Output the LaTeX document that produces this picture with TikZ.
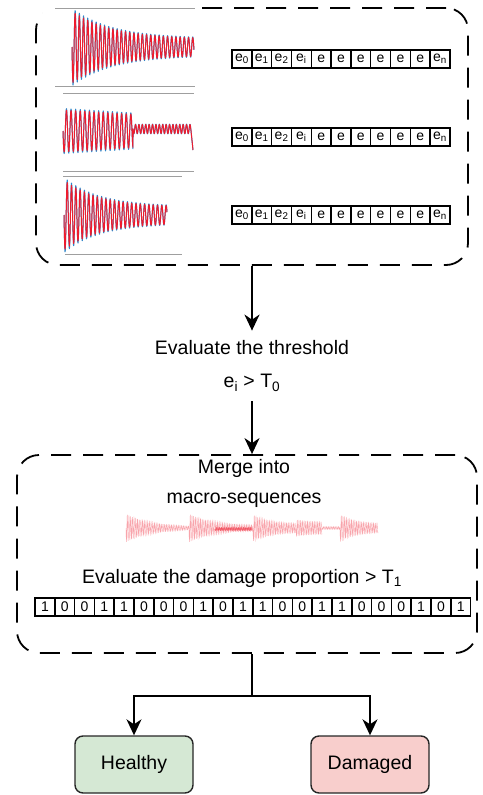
\documentclass[tikz,border=0pt]{standalone}
\usepackage{fontspec}
\setmainfont{Liberation Sans}
\usepackage{tikz}
\usetikzlibrary{arrows.meta}

\definecolor{wavered}{HTML}{EE1C2E}
\definecolor{waveblue}{HTML}{2F86C9}
\definecolor{okfill}{HTML}{D5E8D4}
\definecolor{badfill}{HTML}{F8CECC}

\begin{document}
\begin{tikzpicture}[x=1pt,y=-1pt,
        dashbox/.style={draw, line width=1.8pt, dash pattern=on 20pt off 12pt, rounded corners=22pt},
        cell/.style={draw, line width=1.5pt, minimum width=19.8pt, minimum height=18pt, inner sep=0pt, font=\fontsize{14}{14}\selectfont},
        flow/.style={line width=1.8pt, -{Stealth[length=16pt,width=15pt,inset=5pt]}},
        lbl/.style={font=\fontsize{19.5}{24}\selectfont, align=center},
        result/.style={draw=black!85, line width=1.4pt, rounded corners=8pt, minimum width=118pt, minimum height=57pt, font=\fontsize{19.5}{24}\selectfont},
        trace/.style={line width=1pt, line join=round},
        axisline/.style={gray!75, line width=1pt}]
            \useasboundingbox (0,0) rectangle (482,795);

            \node[dashbox, minimum width=432pt, minimum height=257pt] (tracebox) at (252,136.5) {};
            \node[dashbox, minimum width=460pt, minimum height=198pt] (seqbox) at (247,554) {};

            % recorded traces
            \fill[white] (43,0) rectangle (200,89);
            \draw[axisline] (55,8) -- (195,8);
            \draw[axisline] (55,86) -- (195,86);
            \draw[axisline] (63,93) -- (194,93);
            \draw[axisline] (63,171) -- (194,171);
            \draw[axisline] (63,176) -- (182,176);
            \draw[axisline] (65,254) -- (182,254);

            \foreach \c/\k in {waveblue/1.08, wavered/1} {
                \draw[trace, \c] plot[domain=72:194, samples=600]
                    (\x, {47+\k*(8+28*exp((72-\x)/40))*sin(360/4.2*(\x-72))});
                \draw[trace, \c] plot[domain=63:133, samples=300]
                    (\x, {131+\k*(21-0.06*(\x-63))*sin(360/4.6*(\x-63))})
                    -- plot[domain=133:191, samples=250]
                    (\x, {129+\k*4.5*sin(360/3.4*(\x-133))}) -- (193,150);
                \draw[trace, \c] plot[domain=64:167, samples=500]
                    (\x, {215+\k*(8+27*exp((64-\x)/35))*sin(360/4.3*(\x-64))});
            }

            % energy sequences
            \foreach \r/\y in {1/59, 2/137, 3/215}
                \foreach \t [count=\i] in {e\textsubscript{0}, e\textsubscript{1}, e\textsubscript{2}, e\textsubscript{i}, e, e, e, e, e, e, e\textsubscript{n}}
                    \node[cell] (e\r-\i) at ({222.2+19.8*\i},\y) {\t};

            \node[lbl, font=\fontsize{19.5}{33}\selectfont, inner ysep=10pt] (thr) at (252,366)
                {Evaluate the threshold\\e\textsubscript{i} > T\textsubscript{0}};

            \draw[flow] (tracebox.south) -- (thr.north);
            \draw[flow] (thr.south) -- (thr.south |- seqbox.north);

            \node[lbl, font=\fontsize{19.5}{30}\selectfont] (merge) at (244,483) {Merge into\\macro-sequences};

            % merged macro-sequence
            \foreach \a/\b/\p/\q in {126/189/14/1, 189/253/14/2, 253/296/13/4, 296/322/8/6, 322/340/1.5/1.5, 340/378/13/4}
                \draw[wavered, opacity=.4, line width=.4pt] plot[domain=\a:\b, samples=300]
                    (\x, {528+(\q+(\p-\q)*exp(-2.5*(\x-\a)/(\b-\a)))*sin(360/1.7*(\x-\a))});
            \draw[wavered, opacity=.6, line width=.6pt] plot[domain=215:252, samples=200]
                (\x, {529+1.5*sin(360/1.7*(\x-215))});

            \node[lbl] (dmg) at (242,578) {Evaluate the damage proportion > T\textsubscript{1}};

            \foreach \b [count=\i] in {1,0,0,1,1,0,0,0,1,0,1,1,0,0,1,1,0,0,0,1,0,1}
                \node[cell] (b\i) at ({25.1+19.8*\i},607) {\b};

            \node[result, fill=okfill] (healthy) at (134,764.5) {Healthy};
            \node[result, fill=badfill] (damaged) at (370,764.5) {Damaged};

            \coordinate (split) at (252,696);
            \draw[line width=1.8pt] (seqbox.south -| split) -- (split);
            \draw[flow] (split) -| (healthy);
            \draw[flow] (split) -| (damaged);
        \end{tikzpicture}
\end{document}
